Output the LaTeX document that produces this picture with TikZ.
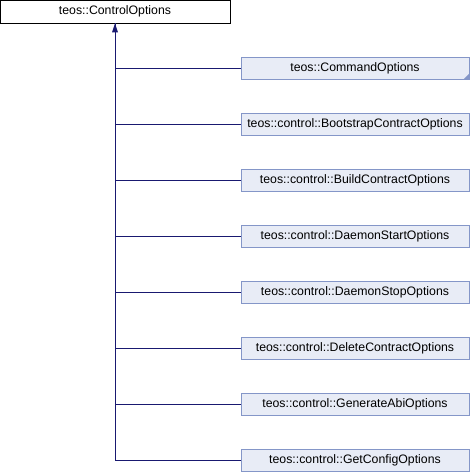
\documentclass[tikz,border=0pt]{standalone}
\usepackage{fontspec}
\setmainfont{Liberation Sans}
\usetikzlibrary{arrows.meta}
\definecolor{edgeblue}{HTML}{191970}
\definecolor{boxfill}{HTML}{E8ECF6}
\definecolor{boxline}{HTML}{8496C8}
\begin{document}
\begin{tikzpicture}[x=1pt,y=-1pt,
  base/.style={draw=black, fill=white, line width=0.8pt, minimum width=230pt, minimum height=23pt,
    inner sep=0pt, font=\fontsize{12.3pt}{15pt}\selectfont},
  child/.style={draw=boxline, fill=boxfill, line width=0.8pt, minimum width=228pt, minimum height=22pt,
    inner sep=0pt, font=\fontsize{12.3pt}{15pt}\selectfont},
  link/.style={draw=edgeblue, line width=0.8pt}]
\useasboundingbox (0,0) rectangle (470,472);
\node[base] (root) at (115,11.5) {teos::ControlOptions};
\node[child] (c1) at (355,68) {teos::CommandOptions};
\node[child] (c2) at (355,124) {teos::control::BootstrapContractOptions};
\node[child] (c3) at (355,180) {teos::control::BuildContractOptions};
\node[child] (c4) at (355,236) {teos::control::DaemonStartOptions};
\node[child] (c5) at (355,292) {teos::control::DaemonStopOptions};
\node[child] (c6) at (355,348) {teos::control::DeleteContractOptions};
\node[child] (c7) at (355,404) {teos::control::GenerateAbiOptions};
\node[child] (c8) at (355,460) {teos::control::GetConfigOptions};
% folded corner on the first child
\fill[boxline] (c1.south east) -- ++(0,-6) -- ++(-6,6) -- cycle;
% inheritance connectors
\coordinate (trunk) at (115,460);
\draw[link] (c8.west) -- (trunk) -- (root.south);
\foreach \i in {1,...,7} {
  \draw[link] (c\i.west) -- (c\i.west -| trunk);
}
\fill[edgeblue] (root.south) -- ++(-3,9) -- ++(6,0) -- cycle;
\end{tikzpicture}
\end{document}
